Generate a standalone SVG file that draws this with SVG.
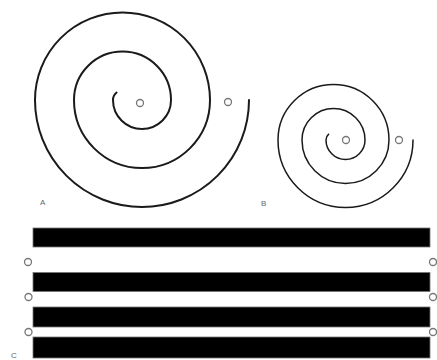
<svg xmlns="http://www.w3.org/2000/svg" width="437" height="360" viewBox="0 0 437 360">
<style>
.sp{fill:none;stroke:#1a1a1a;stroke-linecap:round}
.dot{fill:#fff;stroke:#777;stroke-width:1.3}
.bar{fill:#000;stroke:#777;stroke-width:0.8}
.lbl{font-family:"Liberation Sans",Arial,sans-serif;font-size:8px;fill:#666}
</style>
<rect width="437" height="360" fill="#fff"/>
<g id="spiralA">
<path class="sp" stroke-width="2" d="M 249 100 A 107 107 0 0 1 35 100 A 87.5 87.5 0 0 1 210 100 A 68 68 0 0 1 74 100 A 48.5 48.5 0 0 1 171 100 A 29 29 0 0 1 113 100 A 9.5 9.5 0 0 1 116.6 92.5"/>
<circle class="dot" cx="140" cy="103" r="3.5"/>
<circle class="dot" cx="228" cy="102" r="3.5"/>
<text class="lbl" x="40" y="205">A</text>
</g>
<g id="spiralB">
<path class="sp" stroke-width="1.5" stroke="#333" d="M 413 140 A 67.5 67.5 0 0 1 278 140 A 55.5 55.5 0 0 1 389 140 A 43.5 43.5 0 0 1 302 140 A 31.5 31.5 0 0 1 365 140 A 19.5 19.5 0 0 1 326 140 A 7.5 7.5 0 0 1 328.7 134.2"/>
<circle class="dot" cx="346" cy="140" r="3.5"/>
<circle class="dot" cx="399" cy="140" r="3.5"/>
<text class="lbl" x="261" y="206">B</text>
</g>
<g id="bars">
<rect class="bar" x="33" y="228" width="397" height="19"/>
<rect class="bar" x="33" y="272.5" width="397" height="19"/>
<rect class="bar" x="33" y="307" width="397" height="20"/>
<rect class="bar" x="33" y="337" width="397" height="21"/>
<circle class="dot" cx="28" cy="262" r="3.5"/>
<circle class="dot" cx="28.5" cy="297" r="3.5"/>
<circle class="dot" cx="28.5" cy="332" r="3.5"/>
<circle class="dot" cx="433" cy="262" r="3.5"/>
<circle class="dot" cx="433" cy="297" r="3.5"/>
<circle class="dot" cx="433" cy="332" r="3.5"/>
<text class="lbl" x="11" y="358">C</text>
</g>
</svg>
